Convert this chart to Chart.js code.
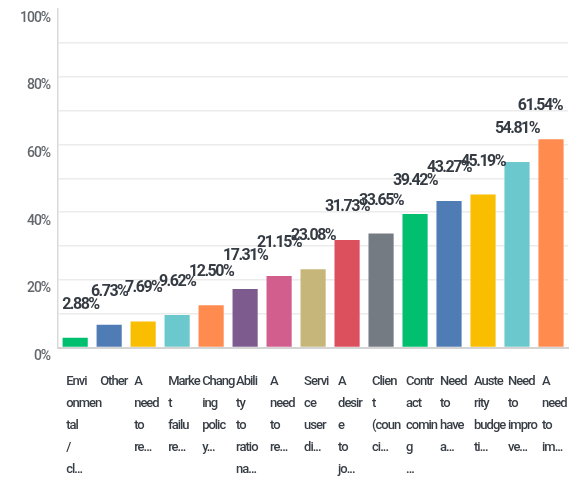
<!DOCTYPE html>
<html>
<head>
<meta charset="utf-8">
<script src="https://cdn.jsdelivr.net/npm/chart.js@4"></script>
<style>
html, body { margin: 0; padding: 0; background: #fff; }
#wrap { width: 571px; height: 481px; }
</style>
</head>
<body>
<div id="wrap"><canvas id="myChart"></canvas></div>
<script>
// categories as they appear wrapped/truncated under the bars
const categories = [
    ['Envi', 'onmen', 'tal', '/', 'cl...'],
    ['Other'],
    ['A', 'need', 'to', 're...'],
    ['Marke', 't', 'failu', 're...'],
    ['Chang', 'ing', 'polic', 'y...'],
    ['Abili', 'ty', 'to', 'ratio', 'na...'],
    ['A', 'need', 'to', 're...'],
    ['Servi', 'ce', 'user', 'di...'],
    ['A', 'desir', 'e', 'to', 'jo...'],
    ['Clien', 't', '(coun', 'ci...'],
    ['Contr', 'act', 'comin', 'g', '...'],
    ['Need', 'to', 'have', 'a...'],
    ['Auste', 'rity', 'budge', 'ti...'],
    ['Need', 'to', 'impro', 've...'],
    ['A', 'need', 'to', 'im...']
]
const values = [2.88, 6.73, 7.69, 9.62, 12.50, 17.31, 21.15, 23.08, 31.73, 33.65, 39.42, 43.27, 45.19, 54.81, 61.54]
const barColors = [
    '#00bf6f', '#507cb6', '#f9be00', '#6bc8cd', '#ff8b4f',
    '#7d5b8f', '#d25e8e', '#c7b67a', '#dc4f5d', '#747b82',
    '#00bf6f', '#507cb6', '#f9be00', '#6bc8cd', '#ff8b4f'
]
const yTicks = [0, 20, 40, 60, 80, 100]

const fontFamily = 'Roboto, "DejaVu Sans", sans-serif'

// the original font is very narrow, tighten the letters a bit
const tightText = {
    id: 'tightText',
    beforeUpdate(chart) { chart.ctx.letterSpacing = '-1px' },
    beforeDraw(chart) { chart.ctx.letterSpacing = '-1px' }
}

// percentage labels floating above each bar
const valueLabels = {
    id: 'valueLabels',
    afterDatasetsDraw(chart) {
        const {ctx, chartArea} = chart
        const meta = chart.getDatasetMeta(0)
        ctx.save()
        ctx.letterSpacing = '-1.5px'
        ctx.font = 'bold 16px ' + fontFamily
        ctx.fillStyle = '#353b43'
        ctx.textAlign = 'center'
        ctx.textBaseline = 'middle'
        meta.data.forEach((bar, i) => {
            const text = values[i].toFixed(2) + '%'
            const w = ctx.measureText(text).width
            let x = Math.max(bar.x, chartArea.left + 4 + w / 2)
            x = Math.min(x, chartArea.right - 6 - w / 2)
            ctx.fillText(text, x, bar.y - 33)
        })
        ctx.restore()
    }
}

const ctx = document.getElementById('myChart').getContext('2d')
new Chart(ctx, {
    type: 'bar',
    data: {
        labels: categories,
        datasets: [{
            data: values,
            backgroundColor: barColors,
            borderWidth: 0,
            barPercentage: 0.74,
            categoryPercentage: 1
        }]
    },
    options: {
        responsive: true,
        maintainAspectRatio: false,
        animation: false,
        layout: { padding: { left: 12, right: 3, top: 9, bottom: 0 } },
        plugins: {
            legend: { display: false },
            tooltip: { enabled: false }
        },
        scales: {
            x: {
                grid: { display: false, drawTicks: false },
                border: { display: true, color: '#d4d4d4', width: 2 },
                ticks: {
                    autoSkip: false,
                    maxRotation: 0,
                    minRotation: 0,
                    align: 'start',
                    labelOffset: -9,
                    padding: 23,
                    color: '#383e45',
                    font: { family: fontFamily, size: 13, weight: '500', lineHeight: 1.7 }
                },
                afterFit(scale) {
                    scale.height -= 23
                    scale.paddingLeft = 0
                    scale.paddingRight = 0
                }
            },
            y: {
                min: 0,
                max: 100,
                grid: {
                    drawTicks: false,
                    lineWidth: 1.5,
                    color: c => (c.tick.value === 0 || c.tick.value === 100) ? 'rgba(0,0,0,0)' : '#ececec'
                },
                border: { display: true, color: '#dadada', width: 1.5 },
                ticks: {
                    stepSize: 10,
                    padding: 8,
                    labelOffset: 9,
                    color: '#62676c',
                    font: { family: fontFamily, size: 14, weight: '500' },
                    callback: v => yTicks.includes(v) ? v + '%' : ''
                },
                afterFit(scale) {
                    scale.paddingTop = 0
                    scale.paddingBottom = 0
                }
            }
        }
    },
    plugins: [tightText, valueLabels]
})
</script>
</body>
</html>
